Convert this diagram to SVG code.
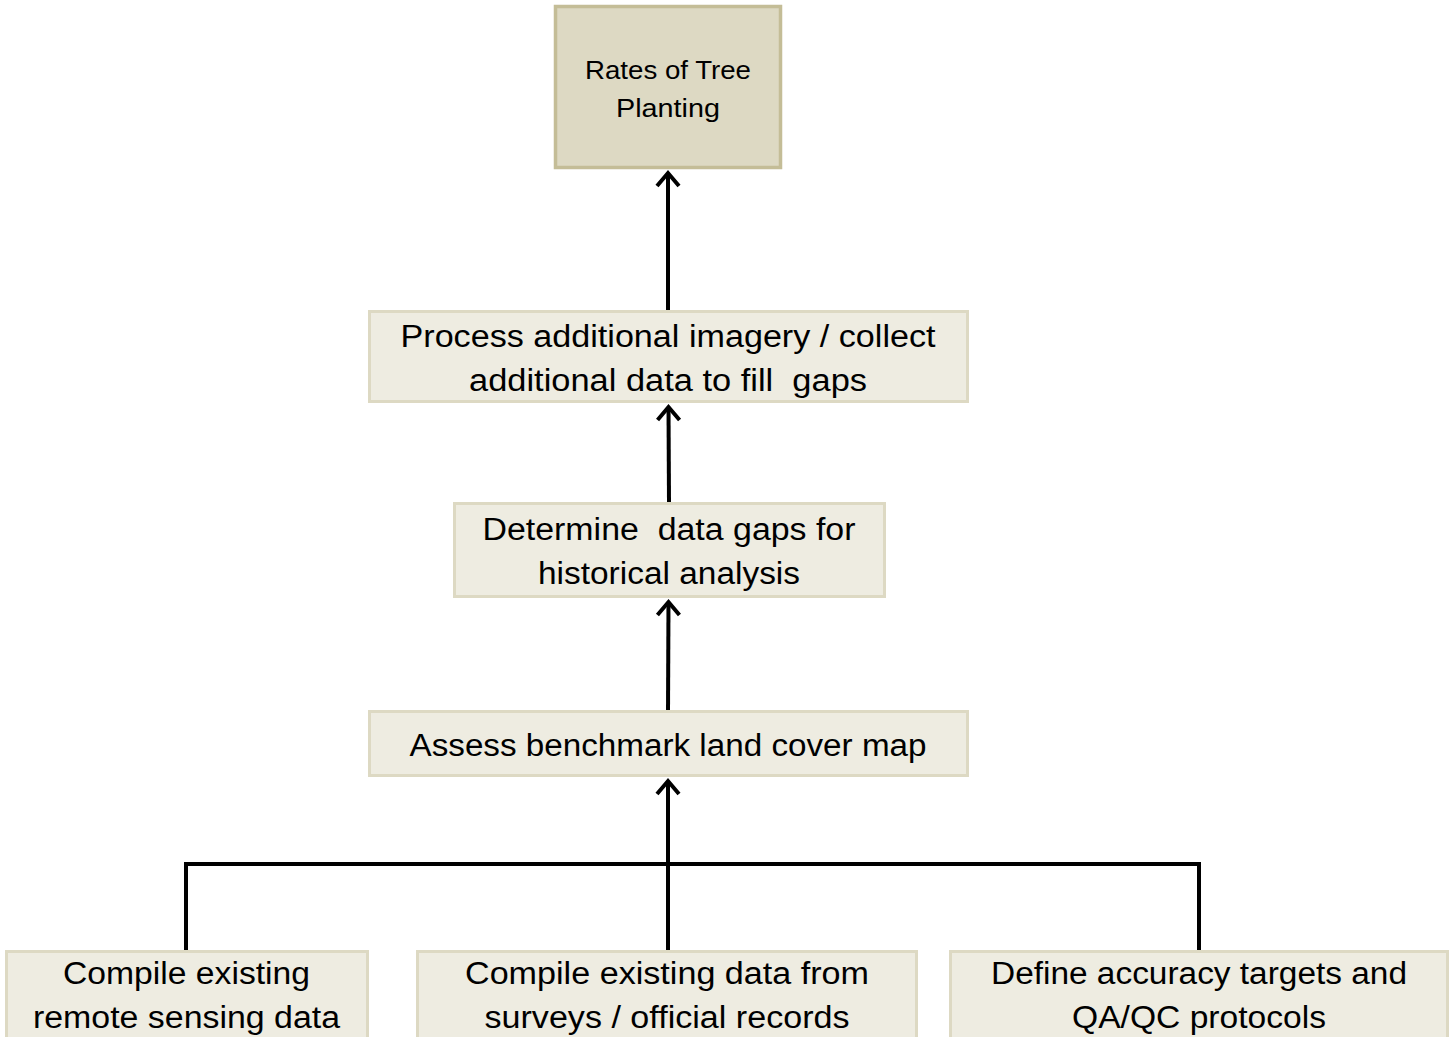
<svg xmlns="http://www.w3.org/2000/svg" width="1451" height="1037" viewBox="0 0 1451 1037">
<style>
.box{fill:#EEECE1;stroke:#DDD9C3;stroke-width:3}
.top{fill:#DDD9C3;stroke:#C4BD97;stroke-width:3.5}
.t{font-family:"Liberation Sans",Arial,sans-serif;font-size:31px;fill:#000;text-anchor:middle;white-space:pre}
.ts{font-size:26px}
.c{fill:none;stroke:#000;stroke-width:4}
</style>
<defs>
<marker id="ah" markerUnits="userSpaceOnUse" markerWidth="30" markerHeight="30" viewBox="-16 -15 20 30" refX="0" refY="0" orient="auto">
<path d="M -13 -11 L 0 0 L -13 11" fill="none" stroke="#000" stroke-width="4" stroke-linejoin="miter"/>
</marker>
</defs>
<rect width="1451" height="1037" fill="#fff"/>
<g id="connectors">
<path class="c" d="M 668 311 L 668 173" marker-end="url(#ah)"/>
<path class="c" d="M 669 503 L 668.5 407" marker-end="url(#ah)"/>
<path class="c" d="M 668 711 L 668.5 602" marker-end="url(#ah)"/>
<path class="c" d="M 668 951 L 668 781" marker-end="url(#ah)"/>
<path class="c" d="M 186 951 L 186 864 L 1199 864 L 1199 951"/>
</g>
<g id="n_rates">
<rect class="top" x="555.5" y="6.5" width="225" height="161"/>
<text class="t ts" x="668" y="79" textLength="166" lengthAdjust="spacingAndGlyphs">Rates of Tree</text>
<text class="t ts" x="668" y="117" textLength="104" lengthAdjust="spacingAndGlyphs">Planting</text>
</g>
<g id="n_process">
<rect class="box" x="369.5" y="311.5" width="598" height="90"/>
<text class="t" x="668" y="347" textLength="535" lengthAdjust="spacingAndGlyphs">Process additional imagery / collect</text>
<text class="t" x="668" y="391" textLength="398" lengthAdjust="spacingAndGlyphs" xml:space="preserve">additional data to fill  gaps</text>
</g>
<g id="n_determine">
<rect class="box" x="454.5" y="503.5" width="430" height="93"/>
<text class="t" x="669" y="540" textLength="373" lengthAdjust="spacingAndGlyphs" xml:space="preserve">Determine  data gaps for</text>
<text class="t" x="669" y="584" textLength="262" lengthAdjust="spacingAndGlyphs">historical analysis</text>
</g>
<g id="n_assess">
<rect class="box" x="369.5" y="711.5" width="598" height="64"/>
<text class="t" x="668" y="756" textLength="517" lengthAdjust="spacingAndGlyphs">Assess benchmark land cover map</text>
</g>
<g id="n_remote">
<rect class="box" x="6.5" y="951.5" width="361" height="88"/>
<text class="t" x="186.5" y="984" textLength="247" lengthAdjust="spacingAndGlyphs">Compile existing</text>
<text class="t" x="186.5" y="1028" textLength="307" lengthAdjust="spacingAndGlyphs">remote sensing data</text>
</g>
<g id="n_surveys">
<rect class="box" x="417.5" y="951.5" width="499" height="88"/>
<text class="t" x="667" y="984" textLength="404" lengthAdjust="spacingAndGlyphs">Compile existing data from</text>
<text class="t" x="667" y="1028" textLength="365" lengthAdjust="spacingAndGlyphs">surveys / official records</text>
</g>
<g id="n_accuracy">
<rect class="box" x="950.5" y="951.5" width="497" height="88"/>
<text class="t" x="1199" y="984" textLength="416" lengthAdjust="spacingAndGlyphs">Define accuracy targets and</text>
<text class="t" x="1199" y="1028" textLength="254" lengthAdjust="spacingAndGlyphs">QA/QC protocols</text>
</g>
</svg>
